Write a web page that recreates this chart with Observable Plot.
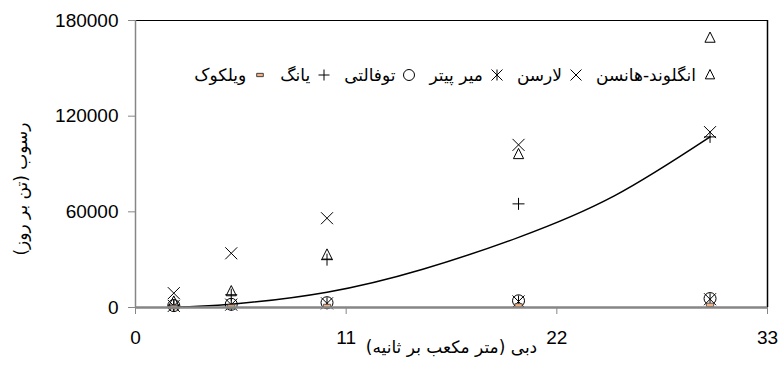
<!DOCTYPE html>
<html><head><meta charset="utf-8">
<script src="https://cdn.jsdelivr.net/npm/d3@7"></script>
<script src="https://cdn.jsdelivr.net/npm/@observablehq/plot@0.6"></script>
<style>
body{margin:0;background:#fff;}
#wrap{position:relative;width:781px;height:367px;}
#legend{position:absolute;top:63px;right:64px;direction:rtl;font-family:"DejaVu Sans",sans-serif;font-size:17px;display:flex;white-space:nowrap;color:#000;line-height:24px;}
#legend span.item{display:inline-flex;align-items:center;margin-left:13px;}
#legend svg{margin-left:7px;}
</style></head><body><div id="wrap"></div>
<script>
// ---- data ----
const flow = [2, 5, 10, 20, 30];
const englundHansen = [3500, 10000, 33000, 96000, 169000];
const larsen = [9000, 34000, 56000, 102000, 110000];
const meyerPeter = [1000, 1800, 2600, 3800, 5200];
const toffaleti = [1200, 2000, 3000, 4200, 5600];
const yang = [1500, 8000, 30000, 65000, 107000];
const wilcock = [300, 600, 900, 1300, 1600];
const trendX = [2, 5, 10, 15, 20, 25, 30];
const trendY = [300, 2100, 9600, 24000, 44000, 70000, 107000];
const xTicks = [0, 11, 22, 33];
const yTicks = [0, 60000, 120000, 180000];
const xLabel = "دبی (متر مکعب بر ثانیه)";
const yLabel = "رسوب (تن بر روز)";
const seriesNames = ["انگلوند-هانسن", "لارسن", "میر پیتر", "توفالتی", "یانگ", "ویلکوک"];

// ---- marker shapes ----
const R = s => Math.sqrt(s / Math.PI);
const symTri = {draw(c, s){const r = R(s); c.moveTo(0, -r); c.lineTo(r*0.85, r*0.7); c.lineTo(-r*0.85, r*0.7); c.closePath();}};
const symTimes = {draw(c, s){const r = R(s); c.moveTo(-r, -r); c.lineTo(r, r); c.moveTo(r, -r); c.lineTo(-r, r);}};
const symStar = {draw(c, s){const r = R(s); c.moveTo(-r, -r); c.lineTo(r, r); c.moveTo(r, -r); c.lineTo(-r, r); c.moveTo(0, -r); c.lineTo(0, r);}};
const symCircle = {draw(c, s){const r = R(s); c.moveTo(r, 0); c.arc(0, 0, r, 0, 2*Math.PI);}};
const symPlus = {draw(c, s){const r = R(s); c.moveTo(-r, 0); c.lineTo(r, 0); c.moveTo(0, -r); c.lineTo(0, r);}};
const symDash = {draw(c, s){const r = R(s); c.rect(-r*0.6, -r*0.3, r*1.2, r*0.6);}};

const series = [
  {name: seriesNames[0], values: englundHansen, symbol: symTri, fill: "none", stroke: "#000"},
  {name: seriesNames[1], values: larsen, symbol: symTimes, fill: "none", stroke: "#000"},
  {name: seriesNames[2], values: meyerPeter, symbol: symStar, fill: "none", stroke: "#000"},
  {name: seriesNames[3], values: toffaleti, symbol: symCircle, fill: "none", stroke: "#000"},
  {name: seriesNames[4], values: yang, symbol: symPlus, fill: "none", stroke: "#000"},
  {name: seriesNames[5], values: wilcock, symbol: symDash, fill: "#f4b183", stroke: "#404040"}
];
const rr = 6;
const font = '"Liberation Sans", "DejaVu Sans", sans-serif';
const axisGray = "#868686";

const dotMarks = series.map(s => Plot.dot(flow.map((x, i) => ({x, y: s.values[i]})), {
  x: "x", y: "y", symbol: s.symbol, r: rr, fill: s.fill, stroke: s.stroke, strokeWidth: s.fill === "none" ? 1 : 0.8
}));

const chart = Plot.plot({
  width: 781, height: 367,
  marginLeft: 135, marginRight: 14, marginTop: 20, marginBottom: 60,
  style: {fontFamily: font, background: "#fff", overflow: "visible"},
  x: {domain: [0, 33]},
  y: {domain: [0, 180000]},
  marks: [
    Plot.ruleY([180000], {stroke: "#000", strokeWidth: 1}),
    Plot.ruleX([33], {stroke: "#000", strokeWidth: 1.5}),
    Plot.ruleX([0], {stroke: axisGray, strokeWidth: 1.5}),
    Plot.axisX({ticks: xTicks, tickFormat: d3.format("d"), tickSize: 7, tickPadding: 16, stroke: axisGray, fontSize: 19, fill: "#000", label: null}),
    Plot.axisY({ticks: yTicks, tickFormat: d3.format("d"), tickSize: 7, tickPadding: 10, stroke: axisGray, fontSize: 19, fill: "#000", label: null}),
    Plot.text([xLabel], {frameAnchor: "bottom", textAnchor: "middle", dy: 45, fontSize: 17, fill: "#000", fontFamily: '"DejaVu Sans"'}),
    Plot.text([yLabel], {frameAnchor: "left", textAnchor: "middle", rotate: -90, dx: -114, dy: 25, fontSize: 17, fill: "#000", fontFamily: '"DejaVu Sans"'}),
    Plot.line(trendX.map((x, i) => ({x, y: trendY[i]})), {x: "x", y: "y", curve: "natural", stroke: "#000", strokeWidth: 1.5}),
    ...dotMarks,
    Plot.ruleY([0], {stroke: axisGray, strokeWidth: 2.5})
  ]
});
const wrap = document.getElementById("wrap");
wrap.appendChild(chart);

// legend inside the plot area (RTL)
const legend = document.createElement("div");
legend.id = "legend";
series.forEach(s => {
  const p = d3.path();
  s.symbol.draw(p, Math.PI * 5.5 * 5.5);
  const item = document.createElement("span");
  item.className = "item";
  item.innerHTML = `<svg width="14" height="14" viewBox="-7 -7 14 14"><path d="${p}" fill="${s.fill}" stroke="${s.stroke}" stroke-width="1"/></svg><span>${s.name}</span>`;
  legend.appendChild(item);
});
wrap.appendChild(legend);
</script>
</body></html>
